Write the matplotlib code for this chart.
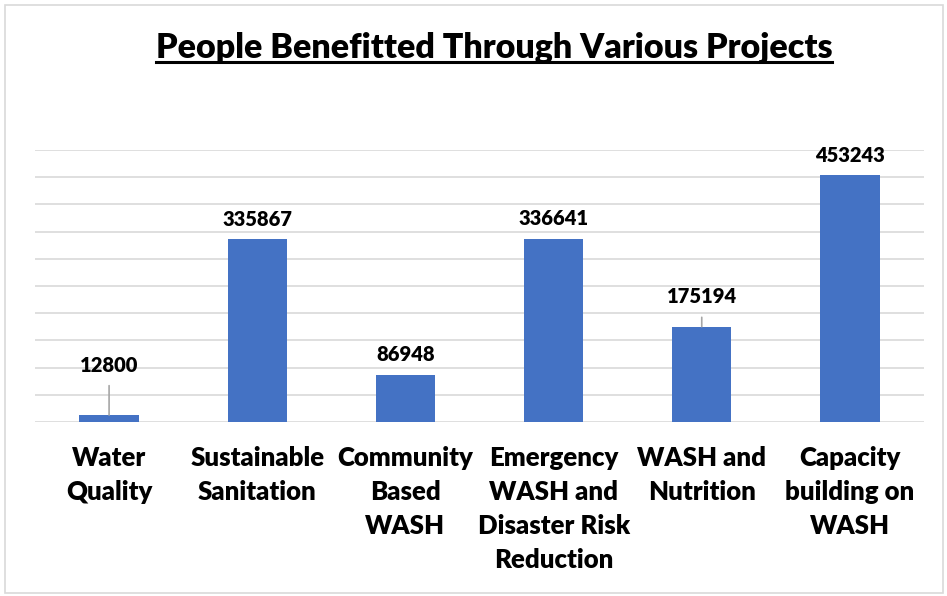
import matplotlib.pyplot as plt
from matplotlib.patches import Rectangle
from matplotlib.lines import Line2D

# data
categories = ['Water\nQuality', 'Sustainable\nSanitation', 'Community\nBased\nWASH',
              'Emergency\nWASH and\nDisaster Risk\nReduction', 'WASH and\nNutrition',
              'Capacity\nbuilding on\nWASH']
people = [12800, 335867, 86948, 336641, 175194, 453243]
y_ticks = [0, 50000, 100000, 150000, 200000, 250000, 300000, 350000, 400000, 450000, 500000]

# label offsets above each bar (pixels); bigger ones get a leader line
label_offsets = [50, 20, 20, 20, 30, 20]

plt.rcParams['font.family'] = ['Lato', 'DejaVu Sans']

fig = plt.figure(figsize=(9.47, 5.96), dpi=100)
ax = fig.add_axes([35 / 947, 1 - 422 / 596, (924 - 35) / 947, (422 - 150) / 596])

x = range(len(categories))
ax.bar(x, people, width=0.4, color='#4472C4', zorder=3)

ax.set_xlim(-0.5, len(categories) - 0.5)
ax.set_ylim(0, 500000)
ax.set_yticks(y_ticks)
ax.yaxis.grid(True, color='#D9D9D9', linewidth=1.2, zorder=0)
ax.tick_params(axis='y', left=False, labelleft=False)
ax.tick_params(axis='x', bottom=False, pad=14)
ax.set_xticks(list(x))
ax.set_xticklabels(categories, fontsize=18.5, fontweight='heavy', va='top', linespacing=1.5)
for s in ax.spines.values():
    s.set_visible(False)

for i, v in enumerate(people):
    off = label_offsets[i]
    if off > 20:
        ax.annotate(f'{v}', xy=(i, v), xytext=(0, off), textcoords='offset pixels',
                    ha='center', va='center', fontsize=14.5, fontweight='heavy',
                    arrowprops=dict(arrowstyle='-', color='#A6A6A6', lw=1.2,
                                    relpos=(0.5, 0), shrinkA=6, shrinkB=0))
    else:
        ax.annotate(f'{v}', xy=(i, v), xytext=(0, off), textcoords='offset pixels',
                    ha='center', va='center', fontsize=14.5, fontweight='heavy')

# title with underline
title = fig.text(494 / 947, 1 - 48 / 596, 'People Benefitted Through Various Projects',
                 ha='center', va='center', fontsize=24.5, fontweight='heavy')
fig.canvas.draw()
bb = title.get_window_extent(fig.canvas.get_renderer()).transformed(fig.transFigure.inverted())
uy = bb.y0 + 0.004
fig.add_artist(Line2D([bb.x0, bb.x1], [uy, uy], transform=fig.transFigure,
                      color='black', linewidth=2.2))

# chart border
fig.add_artist(Rectangle((5 / 947, 3 / 596), 938 / 947, 588 / 596, transform=fig.transFigure,
                         fill=False, edgecolor='#D9D9D9', linewidth=1.2))

fig.savefig('out.png', dpi=100)
